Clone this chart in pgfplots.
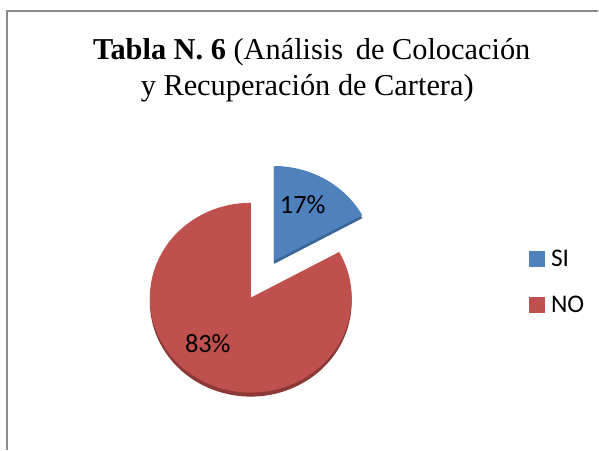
\documentclass[border=0pt]{standalone}
\usepackage{pgfplots}
\usepackage{pgfplotstable}
\pgfplotsset{compat=1.18}
\usepackage{fontspec}
\setmainfont{Liberation Serif}
\newfontfamily\carlito{Carlito}
\definecolor{siblue}{HTML}{4F81BD}
\definecolor{nored}{HTML}{C0504D}
\definecolor{siblued}{HTML}{3A6597}
\definecolor{noredd}{HTML}{8C3836}
\definecolor{framegray}{HTML}{8C8C8C}

\pgfplotstableread{
label value
SI 17
NO 83
}\pietable

\begin{document}
\begin{tikzpicture}
\pgfplotstablegetelem{0}{value}\of\pietable
\pgfmathsetmacro\vSI{\pgfplotsretval}
\pgfmathsetmacro\angSI{90-3.6*\vSI}
\pgfmathsetmacro\angMid{(90+\angSI)/2}
\pgfmathsetmacro\cx{251}
\pgfmathsetmacro\cy{152}
\pgfmathsetmacro\rx{101}
\pgfmathsetmacro\ry{95}
\pgfmathsetmacro\bx{\cx+0.45*\rx*cos(\angMid)}
\pgfmathsetmacro\by{\cy+0.45*\ry*sin(\angMid)}
\begin{axis}[
  width=599bp, height=450bp, scale only axis,
  xmin=0, xmax=599, ymin=0, ymax=450,
  hide axis, clip=false,
  legend style={draw=none, fill=none, inner sep=0pt,
    at={(529/599,1-250/450)}, anchor=north west,
    font=\carlito\fontsize{25.5}{30}\selectfont,
    row sep=28bp,
    nodes={inner sep=0pt, anchor=west}},
  legend cell align=left,
]
\path (axis cs:0,0) rectangle (axis cs:599,450);
% frame
\draw[framegray, line width=1.2bp] (axis cs:7,0) -- (axis cs:7,439) -- (axis cs:599,439);
% title
\node[anchor=base, font=\fontsize{30.5}{36}\selectfont] at (axis cs:312,390) {\textbf{Tabla N. 6} (Análisis\, de Colocación};
\node[anchor=base, font=\fontsize{30.5}{36}\selectfont] at (axis cs:307.5,354) {y Recuperación de Cartera)};
% NO slice depth and face
\fill[noredd] (axis cs:\cx,\cy-4) -- ++(\angSI:\rx bp and \ry bp) arc[start angle=\angSI, end angle=-270, x radius=\rx bp, y radius=\ry bp] -- cycle;
\fill[nored] (axis cs:\cx,\cy) -- ++(\angSI:\rx bp and \ry bp) arc[start angle=\angSI, end angle=-270, x radius=\rx bp, y radius=\ry bp] -- cycle;
% SI slice depth and face
\fill[siblued] (axis cs:\bx,\by-3) -- ++(90:\rx bp and \ry bp) arc[start angle=90, end angle=\angSI, x radius=\rx bp, y radius=\ry bp] -- cycle;
\fill[siblue] (axis cs:\bx,\by) -- ++(90:\rx bp and \ry bp) arc[start angle=90, end angle=\angSI, x radius=\rx bp, y radius=\ry bp] -- cycle;
% labels
\node[font=\carlito\fontsize{26.5}{30}\selectfont] at (axis cs:303,245.5) {17\%};
\node[font=\carlito\fontsize{26.5}{30}\selectfont] at (axis cs:208,106) {83\%};
% legend
\addlegendimage{legend image code/.code={\fill[siblue] (0bp,-7.5bp) rectangle (15bp,7.5bp);}}
\addlegendentry{\hspace{7bp}SI}
\addlegendimage{legend image code/.code={\fill[nored] (0bp,-7.5bp) rectangle (15bp,7.5bp);}}
\addlegendentry{\hspace{7bp}NO}
\end{axis}
\end{tikzpicture}
\end{document}
